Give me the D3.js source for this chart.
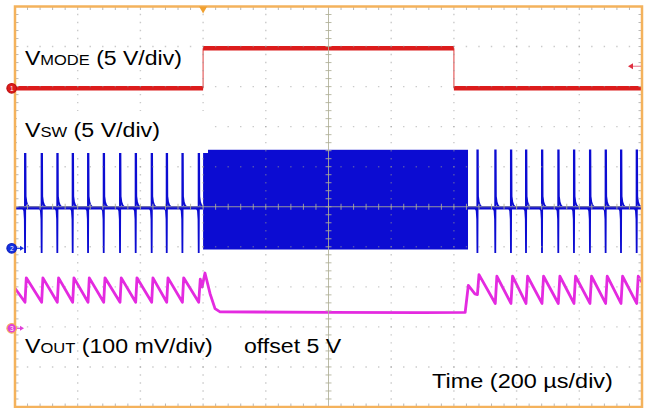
<!DOCTYPE html>
<html><head><meta charset="utf-8">
<script src="https://cdn.jsdelivr.net/npm/d3@7"></script>
<style>html,body{margin:0;padding:0;background:#fff}svg{display:block}</style>
</head><body>
<svg id="c" width="645" height="408"></svg>
<script>
// ---------------- data (read from the scope capture) ----------------
const timeDomain = [0, 2000];                 // µs, 200 µs/div, 10 div
const triggerTime = 600;                      // µs
const triggerLevel = 2.75;                    // V on CH1

// CH1  VMODE (5 V/div)
const modeEdges  = [0, 600, 1400, 2000];      // µs
const modeLevels = [0, 5, 0];                 // V for each segment

// CH2  VSW (5 V/div)
const swSpikeTimes = [32, 85, 135, 184, 233, 283, 335, 385, 436, 484, 534, 586,
                      1475, 1532, 1582, 1630, 1681, 1733, 1783, 1834, 1884, 1933, 1983];
const swLevels = [5.05, 12.2, -0.6];          // baseline, spike top, spike bottom (V)
const swBurst = [600, 1445];                  // µs, continuous switching
const swBurstLevels = [12.3, -0.15];          // V
const spikeUpDt  = [0, 0, 1, 1.6, 4, 8, 15];  // µs from spike
const spikeUpF   = [0, 1, 1, 0.2, 0.1, 0.04, 0];
const spikeDnDt  = [-7, -2.5, -0.7, 0, 0.6];
const spikeDnF   = [0, 0.06, 0.25, 1, 0];

// CH3  VOUT (100 mV/div, offset 5 V) values in mV above 5 V
const voutTimes  = [0, 32, 36, 85, 89, 135, 139, 184, 188, 233, 237, 283, 287, 335, 339,
                    385, 389, 436, 440, 484, 488, 534, 538, 586, 591, 597, 606, 622, 638, 654,
                    1000, 1300, 1436, 1446, 1467, 1475, 1480, 1532, 1537, 1582, 1587, 1630, 1635,
                    1681, 1686, 1733, 1738, 1783, 1788, 1834, 1839, 1884, 1889, 1933, 1938,
                    1983, 1988, 2000];
const voutValues = [100, 65, 126, 65, 126, 65, 126, 65, 126, 65, 126, 65, 126, 65, 126,
                    65, 126, 65, 126, 65, 126, 65, 126, 65, 123, 103, 138, 87, 49, 41,
                    40, 39, 40, 107, 86, 84, 134, 62, 130, 62, 130, 62, 130,
                    62, 130, 62, 130, 62, 130, 62, 130, 62, 130, 62, 130,
                    62, 130, 115];

// ---------------- layout ----------------
const svg = d3.select("#c");
const L = 15, R = 642, T = 6.5, B = 407;
const x = d3.scaleLinear().domain(timeDomain).range([L, R]);
const yDiv = d3.scaleLinear().domain([-5, 5]).range([B, T]);
const divPx = yDiv(0) - yDiv(1);
const chScale = (gnd, vpd) => d3.scaleLinear().domain([0, vpd]).range([gnd, gnd - divPx]);
const y1 = chScale(88.3, 5), y2 = chScale(248.3, 5), y3 = chScale(328.3, 100);

const RED = "#dc1c1c", BLUE = "#0c0cd2", PINK = "#e42ae0", ORANGE = "#f4b25c";

svg.append("rect").attr("width", 645).attr("height", 408).attr("fill", "#fff");

// ---------------- CH2 VSW ----------------
const gSw = svg.append("g");
gSw.append("line").attr("x1", x(0)).attr("x2", x(2000))
  .attr("y1", y2(swLevels[0])).attr("y2", y2(swLevels[0]))
  .attr("stroke", BLUE).attr("stroke-width", 3.5);
const upLine = d3.line().x(d => x(d[0])).y(d => y2(d[1]));
swSpikeTimes.forEach(t => {
  const up = spikeUpDt.map((dt, i) => [t + dt, swLevels[0] + spikeUpF[i] * (swLevels[1] - swLevels[0])]);
  const dn = spikeDnDt.map((dt, i) => [t + dt, swLevels[0] + spikeDnF[i] * (swLevels[2] - swLevels[0])]);
  gSw.append("path").attr("d", upLine(up)).attr("fill", "none").attr("stroke", BLUE).attr("stroke-width", 2);
  gSw.append("path").attr("d", upLine(dn)).attr("fill", "none").attr("stroke", BLUE).attr("stroke-width", 1.8);
});
gSw.append("rect").attr("x", x(swBurst[0])).attr("width", x(swBurst[1]) - x(swBurst[0]))
  .attr("y", y2(swBurstLevels[0])).attr("height", y2(swBurstLevels[1]) - y2(swBurstLevels[0]))
  .attr("fill", BLUE);

// ---------------- CH3 VOUT ----------------
svg.append("path")
  .attr("d", d3.line().x((d, i) => x(voutTimes[i])).y(d => y3(d))(voutValues))
  .attr("fill", "none").attr("stroke", PINK).attr("stroke-width", 2.8).attr("stroke-linejoin", "round");

// ---------------- CH1 VMODE ----------------
const gM = svg.append("g");
modeLevels.forEach((v, i) => {
  gM.append("line").attr("x1", x(modeEdges[i])).attr("x2", x(modeEdges[i + 1]))
    .attr("y1", y1(v)).attr("y2", y1(v)).attr("stroke", RED).attr("stroke-width", 4.5);
  if (i > 0) gM.append("line").attr("x1", x(modeEdges[i])).attr("x2", x(modeEdges[i]))
    .attr("y1", y1(modeLevels[i - 1])).attr("y2", y1(v)).attr("stroke", RED).attr("stroke-width", 1.2).attr("opacity", 0.7);
});

// ---------------- graticule ----------------
const gG = svg.append("g");
const minX = (x(200) - x(0)) / 5, minY = divPx / 5;
const DOT = "rgba(150,150,150,0.5)";
d3.range(1, 10).filter(k => k !== 5).forEach(k => {
  const xx = x(k * 200);
  gG.append("line").attr("x1", xx).attr("x2", xx).attr("y1", T).attr("y2", B)
    .attr("stroke", DOT).attr("stroke-width", 1.4)
    .attr("stroke-dasharray", `1.4,${minY - 1.4}`).attr("stroke-dashoffset", 0.7);
  const yy = yDiv(k - 5);
  gG.append("line").attr("x1", L).attr("x2", R).attr("y1", yy).attr("y2", yy)
    .attr("stroke", DOT).attr("stroke-width", 1.4)
    .attr("stroke-dasharray", `1.4,${minX - 1.4}`).attr("stroke-dashoffset", 0.7);
});
const cx = x(1000), cy = yDiv(0), AX = "rgba(175,175,150,0.85)";
gG.append("line").attr("x1", cx).attr("x2", cx).attr("y1", T).attr("y2", B).attr("stroke", AX).attr("stroke-width", 1);
gG.append("line").attr("x1", L).attr("x2", R).attr("y1", cy).attr("y2", cy).attr("stroke", AX).attr("stroke-width", 1);
d3.range(1, 50).forEach(k => {
  const xx = L + k * minX;
  gG.append("line").attr("x1", xx).attr("x2", xx).attr("y1", cy - 3).attr("y2", cy + 3).attr("stroke", AX);
  gG.append("line").attr("x1", xx).attr("x2", xx).attr("y1", T).attr("y2", T + 3.5).attr("stroke", "#b8b8b8");
  gG.append("line").attr("x1", xx).attr("x2", xx).attr("y1", B - 3.5).attr("y2", B).attr("stroke", "#b8b8b8");
  const yy = T + k * minY;
  gG.append("line").attr("x1", cx - 3).attr("x2", cx + 3).attr("y1", yy).attr("y2", yy).attr("stroke", AX);
  gG.append("line").attr("x1", L).attr("x2", L + 3.5).attr("y1", yy).attr("y2", yy).attr("stroke", "#b8b8b8");
  gG.append("line").attr("x1", R - 3.5).attr("x2", R).attr("y1", yy).attr("y2", yy).attr("stroke", "#b8b8b8");
});

// ---------------- labels ----------------
svg.append("rect").attr("x", 17).attr("y", 111).attr("width", 208 - 17).attr("height", 153 - 111).attr("fill", "#fff");
function label(x0, yb, parts, target) {
  const t = svg.append("text").attr("font-family", "'Liberation Sans', Arial, sans-serif")
    .attr("fill", "#000").style("white-space", "pre");
  parts.forEach(p => t.append("tspan").attr("font-size", p[1]).text(p[0]));
  const w = t.node().getComputedTextLength();
  const s = target ? target / w : 1.1;
  t.attr("transform", `translate(${x0},${yb}) scale(${s},1)`);
}
label(25, 65, [["V", 21], ["MODE", 15], [" (5 V/div)", 21]], 157);
label(25, 136.5, [["V", 21], ["SW", 15], [" (5 V/div)", 21]], 135);
label(25, 353, [["V", 21], ["OUT", 15], [" (100 mV/div)", 21]], 188);
label(244, 353, [["offset 5 V", 21]], null);
label(432, 388, [["Time (200 µs/div)", 21]], 181);

// ---------------- border & markers ----------------
svg.append("rect").attr("x", L).attr("y", T).attr("width", R - L).attr("height", B - T)
  .attr("fill", "none").attr("stroke", ORANGE).attr("stroke-width", 2.5);
// trigger position
const tx = x(triggerTime);
svg.append("path").attr("d", `M${tx - 4},${T}L${tx + 4},${T}L${tx},${T + 7}Z`).attr("fill", "#f0a030");
// trigger level
const ty = y1(triggerLevel);
svg.append("line").attr("x1", R - 9).attr("x2", R - 1).attr("y1", ty).attr("y2", ty).attr("stroke", "#e88a9a").attr("stroke-width", 1.2);
svg.append("path").attr("d", `M${R - 14},${ty}L${R - 9},${ty - 3}L${R - 9},${ty + 3}Z`).attr("fill", "#e03040");
// channel ground markers
function marker(yy, fill, ring, txt, arrow) {
  if (arrow) {
    svg.append("line").attr("x1", 14).attr("x2", 21).attr("y1", yy).attr("y2", yy).attr("stroke", fill).attr("stroke-width", 1.2);
    svg.append("path").attr("d", `M24,${yy}L20,${yy - 2.5}L20,${yy + 2.5}Z`).attr("fill", fill);
  }
  svg.append("circle").attr("cx", 11.7).attr("cy", yy).attr("r", 4.8).attr("fill", fill).attr("stroke", ring).attr("stroke-width", 1.2);
  svg.append("text").attr("x", 11.7).attr("y", yy + 2.3).attr("text-anchor", "middle")
    .attr("font-family", "'Liberation Sans', Arial, sans-serif").attr("font-size", 6.5).attr("fill", "#fff").text(txt);
}
marker(y1(0), RED, "#c01010", "1", false);
marker(y2(0), "#1430e0", "#1020c0", "2", true);
marker(y3(0), "#e040d8", ORANGE, "3", true);
</script>
</body></html>
